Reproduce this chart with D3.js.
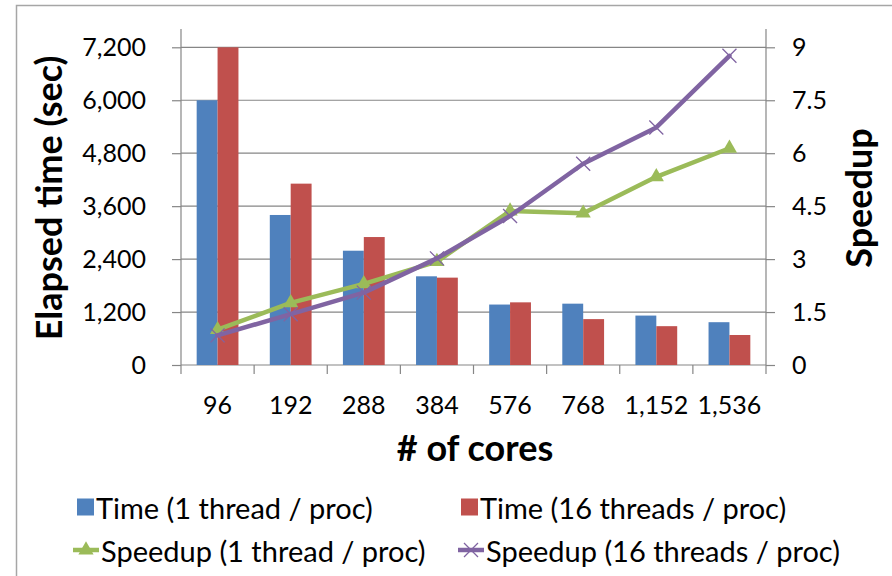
<!DOCTYPE html>
<html>
<head>
<meta charset="utf-8">
<script src="https://cdn.jsdelivr.net/npm/d3@7"></script>
<style>
  body { margin: 0; background: #fff; }
  svg { display: block; font-family: Lato, "Open Sans", "Liberation Sans", sans-serif; }
</style>
</head>
<body>
<svg id="chart" width="892" height="576"></svg>
<script>
// Elapsed time and speedup by core count
const cores = ["96", "192", "288", "384", "576", "768", "1,152", "1,536"];
const time1 = [6000, 3400, 2590, 2010, 1370, 1390, 1120, 970];
const time16 = [7200, 4110, 2900, 1980, 1420, 1040, 880, 680];
const speedup1 = [1.0, 1.76, 2.30, 2.93, 4.36, 4.30, 5.33, 6.14];
const speedup16 = [0.84, 1.44, 2.05, 3.02, 4.22, 5.70, 6.73, 8.76];
const timeTicks = [0, 1200, 2400, 3600, 4800, 6000, 7200];
const speedTicks = [0, 1.5, 3, 4.5, 6, 7.5, 9];
const seriesNames = ["Time (1 thread / proc)", "Time (16 threads / proc)",
                     "Speedup (1 thread / proc)", "Speedup (16 threads / proc)"];

const colors = { blue: "#4F81BD", red: "#C0504D", green: "#9BBB59", purple: "#8064A2" };
const gridColor = "#868686";
const tickFont = 25, legendFont = 29, titleFont = 36;

const svg = d3.select("#chart");
const plotLeft = 181, plotRight = 766, plotTop = 47.3, plotBottom = 365, axisTop = 29;

// chart frame
svg.append("rect")
  .attr("x", 16.5).attr("y", 5.5).attr("width", 900).attr("height", 600)
  .attr("fill", "none").attr("stroke", "#a6a6a6").attr("stroke-width", 1.5);

const x = d3.scaleBand().domain(cores).range([plotLeft, plotRight])
  .paddingInner(0.4286).paddingOuter(0.2143);
const xSeries = d3.scaleBand().domain([0, 1]).range([0, x.bandwidth()]);
const yTime = d3.scaleLinear().domain([0, 7200]).range([plotBottom, plotTop]);
const ySpeed = d3.scaleLinear().domain([0, 9]).range([plotBottom, plotTop]);

// gridlines
svg.append("g").selectAll("line").data(timeTicks.slice(1)).join("line")
  .attr("x1", plotLeft).attr("x2", plotRight)
  .attr("y1", d => yTime(d)).attr("y2", d => yTime(d))
  .attr("stroke", gridColor).attr("stroke-width", 1.2);

// left axis
const leftAxis = d3.axisLeft(yTime).tickValues(timeTicks).tickFormat(d3.format(",")).tickSize(9).tickPadding(26);
const gL = svg.append("g").attr("transform", `translate(${plotLeft},0)`).call(leftAxis);
gL.select(".domain").remove();
gL.selectAll(".tick line").attr("stroke", gridColor).attr("stroke-width", 1.2);
gL.selectAll(".tick text").attr("font-size", tickFont).attr("fill", "#000");
gL.attr("font-family", null);
svg.append("line").attr("x1", plotLeft).attr("x2", plotLeft).attr("y1", axisTop).attr("y2", plotBottom)
  .attr("stroke", gridColor).attr("stroke-width", 1.2);

// right axis
const rightAxis = d3.axisRight(ySpeed).tickValues(speedTicks)
  .tickFormat(d => (d % 1 ? d.toFixed(1) : String(d))).tickSize(9).tickPadding(17);
const gR = svg.append("g").attr("transform", `translate(${plotRight},0)`).call(rightAxis);
gR.select(".domain").remove();
gR.selectAll(".tick line").attr("stroke", gridColor).attr("stroke-width", 1.2);
gR.selectAll(".tick text").attr("font-size", tickFont).attr("fill", "#000");
gR.attr("font-family", null);
svg.append("line").attr("x1", plotRight).attr("x2", plotRight).attr("y1", axisTop).attr("y2", plotBottom)
  .attr("stroke", gridColor).attr("stroke-width", 1.2);

// category axis
svg.append("line").attr("x1", plotLeft).attr("x2", plotRight).attr("y1", plotBottom).attr("y2", plotBottom)
  .attr("stroke", gridColor).attr("stroke-width", 1.2);
const step = x.step();
const boundaries = d3.range(cores.length + 1).map(i => plotLeft + i * step);
svg.append("g").selectAll("line").data(boundaries).join("line")
  .attr("x1", d => d).attr("x2", d => d).attr("y1", plotBottom).attr("y2", plotBottom + 9)
  .attr("stroke", gridColor).attr("stroke-width", 1.2);
svg.append("g").selectAll("text").data(cores).join("text")
  .attr("x", d => x(d) + x.bandwidth() / 2).attr("y", 404)
  .attr("text-anchor", "middle").attr("dominant-baseline", "central")
  .attr("font-size", tickFont).attr("fill", "#000").text(d => d);

// bars
const barGroups = svg.append("g").selectAll("g").data(cores).join("g")
  .attr("transform", d => `translate(${x(d)},0)`);
barGroups.append("rect")
  .attr("x", xSeries(0)).attr("width", xSeries.bandwidth())
  .attr("y", (d, i) => yTime(time1[i])).attr("height", (d, i) => plotBottom - yTime(time1[i]))
  .attr("fill", colors.blue);
barGroups.append("rect")
  .attr("x", xSeries(1)).attr("width", xSeries.bandwidth())
  .attr("y", (d, i) => yTime(time16[i])).attr("height", (d, i) => plotBottom - yTime(time16[i]))
  .attr("fill", colors.red);

// speedup lines
const cx = d => x(d) + x.bandwidth() / 2;
const tri = d3.symbol().type(d3.symbolTriangle).size(100);

function drawLine(values, color, marker) {
  const line = d3.line().x((d, i) => cx(cores[i])).y(d => ySpeed(d));
  svg.append("path").datum(values).attr("d", line)
    .attr("fill", "none").attr("stroke", color).attr("stroke-width", 4.5)
    .attr("stroke-linejoin", "round").attr("stroke-linecap", "round");
  const pts = svg.append("g").selectAll("g").data(values).join("g")
    .attr("transform", (d, i) => `translate(${cx(cores[i])},${ySpeed(d)})`);
  marker(pts, color);
}
const triMarker = (sel, color) => sel.append("path").attr("d", tri).attr("fill", color);
const crossMarker = (sel, color) => {
  sel.append("path").attr("d", "M-7,-7L7,7M-7,7L7,-7")
    .attr("stroke", color).attr("stroke-width", 1.3).attr("fill", "none");
};
drawLine(speedup1, colors.green, triMarker);
drawLine(speedup16, colors.purple, crossMarker);

// axis titles
svg.append("text").attr("transform", "translate(48,198) rotate(-90)")
  .attr("text-anchor", "middle").attr("dominant-baseline", "central")
  .attr("font-size", titleFont).attr("font-weight", "bold").text("Elapsed time (sec)");
svg.append("text").attr("transform", "translate(858,198) rotate(-90)")
  .attr("text-anchor", "middle").attr("dominant-baseline", "central")
  .attr("font-size", titleFont).attr("font-weight", "bold").text("Speedup");
svg.append("text").attr("x", 475).attr("y", 447)
  .attr("text-anchor", "middle").attr("dominant-baseline", "central")
  .attr("font-size", titleFont).attr("font-weight", "bold").text("# of cores");

// legend
const legend = svg.append("g").attr("font-size", legendFont);
const legendItems = [
  { name: seriesNames[0], color: colors.blue, kind: "bar", x: 77, y: 507 },
  { name: seriesNames[1], color: colors.red, kind: "bar", x: 461, y: 507 },
  { name: seriesNames[2], color: colors.green, kind: "tri", x: 73, y: 550 },
  { name: seriesNames[3], color: colors.purple, kind: "cross", x: 458, y: 550 }
];
legendItems.forEach(it => {
  const g = legend.append("g");
  if (it.kind === "bar") {
    g.append("rect").attr("x", it.x).attr("y", it.y - 8.5).attr("width", 17).attr("height", 17).attr("fill", it.color);
    g.append("text").attr("x", it.x + 19).attr("y", it.y).attr("dominant-baseline", "central").text(it.name);
  } else {
    g.append("line").attr("x1", it.x).attr("x2", it.x + 26).attr("y1", it.y).attr("y2", it.y)
      .attr("stroke", it.color).attr("stroke-width", 4.5);
    const m = g.append("g").attr("transform", `translate(${it.x + 13},${it.y})`);
    if (it.kind === "tri") triMarker(m, it.color); else crossMarker(m, it.color);
    g.append("text").attr("x", it.x + 28).attr("y", it.y).attr("dominant-baseline", "central").text(it.name);
  }
});
</script>
</body>
</html>
